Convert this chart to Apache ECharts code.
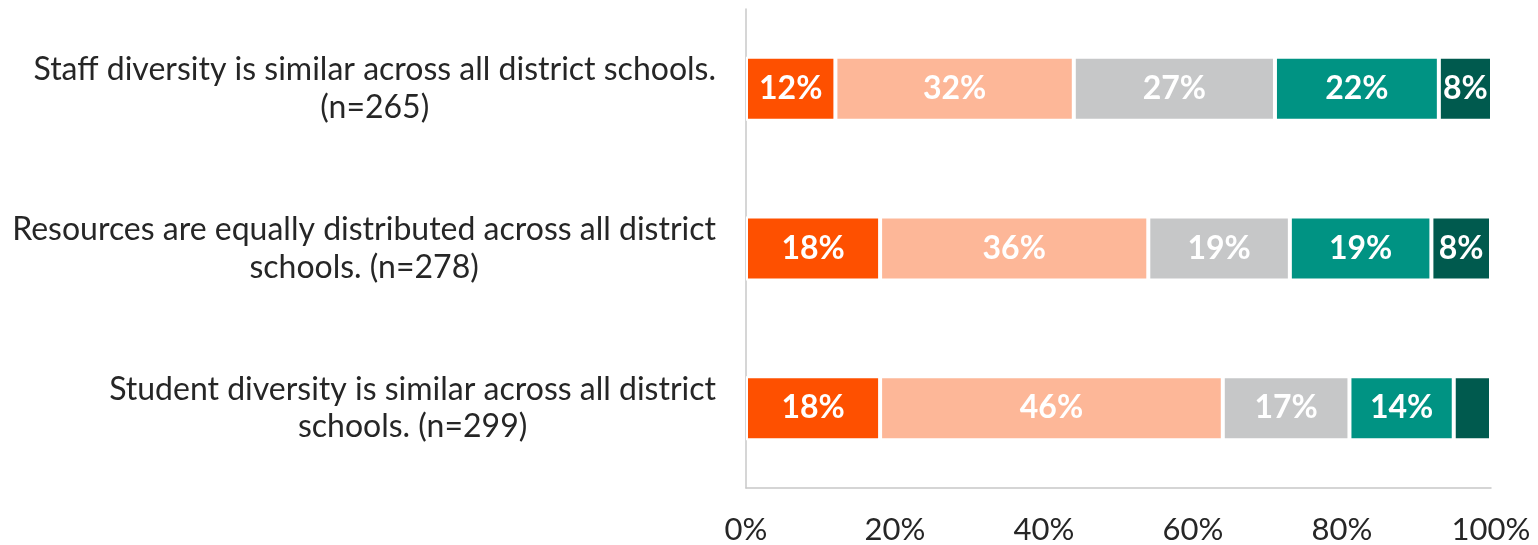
<!DOCTYPE html>
<html>
<head>
<meta charset="utf-8">
<style>
  html, body { margin: 0; padding: 0; background: #ffffff; }
  #chart { width: 1538px; height: 545px; }
</style>
<script src="https://cdn.jsdelivr.net/npm/echarts@6/dist/echarts.min.js"></script>
</head>
<body>
<div id="chart"></div>
<script>
// Survey statements, listed top to bottom
const categories = [
  'Staff diversity is similar across all district schools.\n(n=265)',
  'Resources are equally distributed across all district\nschools. (n=278)',
  'Student diversity is similar across all district\nschools. (n=299)'
];

// Response shares (%) per statement, one array per response level
const level1 = [12, 18, 18];
const level2 = [32, 36, 46];
const level3 = [27, 19, 17];
const level4 = [22, 19, 14];
const level5 = [8, 8, 5];

const xTicks = [0, 20, 40, 60, 80, 100];

const levels = [
  { name: 'Level 1', data: level1, color: '#FE5000' },
  { name: 'Level 2', data: level2, color: '#FDB798' },
  { name: 'Level 3', data: level3, color: '#C6C7C8' },
  { name: 'Level 4', data: level4, color: '#009383' },
  { name: 'Level 5', data: level5, color: '#005A4E' }
];

const FONT = 'Lato, "Noto Sans", sans-serif';

const chart = echarts.init(document.getElementById('chart'), null, { renderer: 'canvas' });

chart.setOption({
  animation: false,
  backgroundColor: '#ffffff',
  grid: { left: 746, right: 47, top: 9, bottom: 55.5, containLabel: false },
  xAxis: {
    type: 'value',
    min: xTicks[0],
    max: xTicks[xTicks.length - 1],
    interval: xTicks[1] - xTicks[0],
    axisLine: { show: true, lineStyle: { color: '#C8C8C8', width: 1.5 } },
    axisTick: { show: false },
    splitLine: { show: false },
    axisLabel: {
      formatter: '{value}%',
      fontFamily: FONT,
      fontSize: 31,
      color: '#262626',
      margin: 26
    }
  },
  yAxis: {
    type: 'category',
    inverse: true,
    data: categories,
    axisLine: { show: true, lineStyle: { color: '#C8C8C8', width: 1.5 } },
    axisTick: { show: false },
    axisLabel: {
      margin: 30,
      align: 'right',
      formatter: function (v) {
        return v.split('\n').map(function (line) { return '{c|' + line + '}'; }).join('\n');
      },
      rich: {
        c: {
          align: 'center',
          fontFamily: FONT,
          fontSize: 32,
          lineHeight: 37.6,
          color: '#262626'
        }
      }
    }
  },
  series: levels.map(function (lv) {
    return {
      name: lv.name,
      type: 'bar',
      stack: 'total',
      data: lv.data,
      barWidth: 64,
      itemStyle: { color: lv.color, borderColor: '#ffffff', borderWidth: 2 },
      label: {
        show: true,
        position: 'inside',
        formatter: function (p) { return p.value >= 6 ? p.value + '%' : ''; },
        color: '#ffffff',
        fontFamily: FONT,
        fontWeight: 'bold',
        fontSize: 32
      }
    };
  })
});
</script>
</body>
</html>
